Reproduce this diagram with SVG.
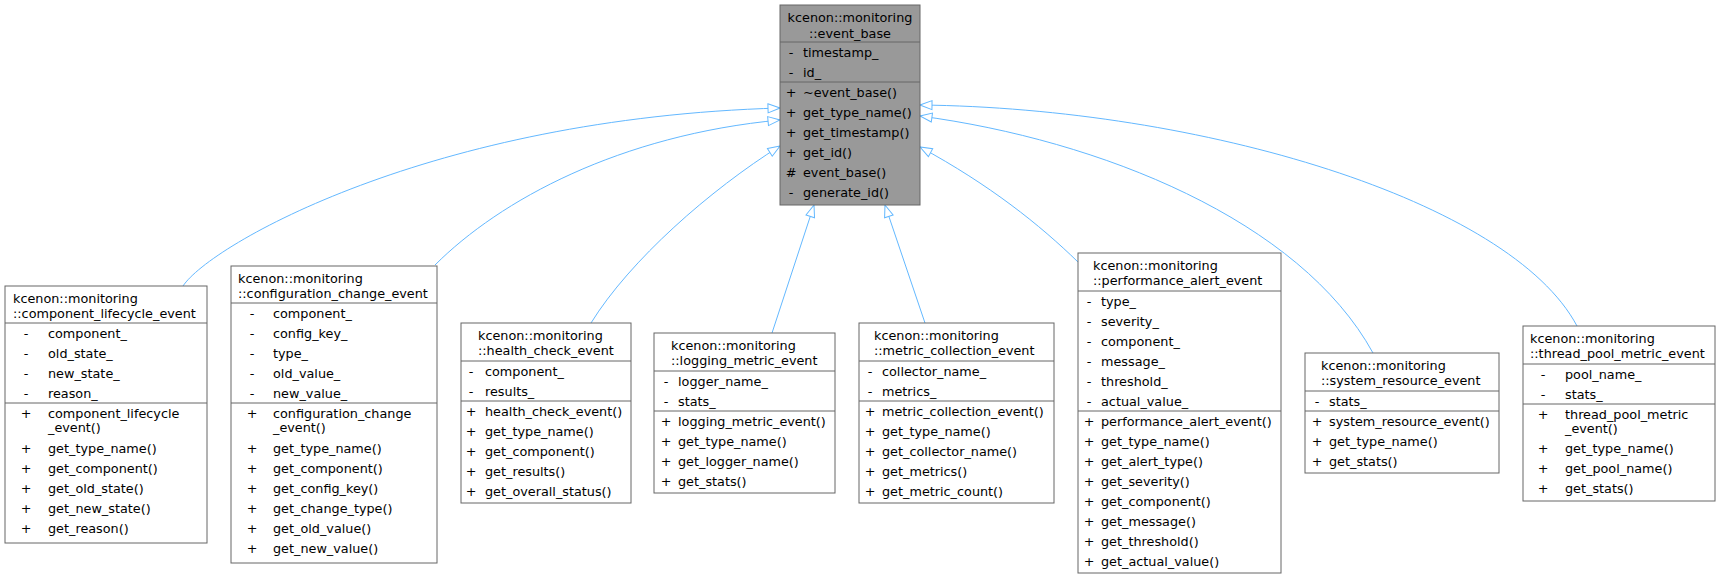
<svg xmlns="http://www.w3.org/2000/svg" width="1721" height="579" viewBox="0 0 1721 579">
<style>
text{font-family:"DejaVu Sans","Liberation Sans",sans-serif;font-size:12.8px;fill:#000}
.box{fill:#fff;stroke:#666;stroke-width:1}
.base{fill:#999;stroke:#666;stroke-width:1}
.sep{stroke:#666;stroke-width:1}
.s{text-anchor:middle}
.c{text-anchor:middle}
.e{fill:none;stroke:#63b8ff;stroke-width:1}
</style>
<defs>
<marker id="a" markerUnits="userSpaceOnUse" markerWidth="14" markerHeight="12" viewBox="-1 -1 14 11" refX="12" refY="4.5" orient="auto">
<path d="M0,0 L12,4.5 L0,9 Z" fill="#fff" stroke="#63b8ff" stroke-width="1"/>
</marker>
</defs>
<g id="connectors">
<path class="e" marker-end="url(#a)" d="M183,286 C210,245 430,118 780,108"/>
<path class="e" marker-end="url(#a)" d="M435,265 C500,200 620,135 780,120"/>
<path class="e" marker-end="url(#a)" d="M591,323 C630,260 710,190 780,146"/>
<path class="e" marker-end="url(#a)" d="M772,333 L814,205"/>
<path class="e" marker-end="url(#a)" d="M925,323 L885,205"/>
<path class="e" marker-end="url(#a)" d="M1078,262 C1040,225 990,185 920,147"/>
<path class="e" marker-end="url(#a)" d="M1373,353 C1300,220 1100,140 920,116"/>
<path class="e" marker-end="url(#a)" d="M1577,326 C1510,200 1200,108 920,105"/>
</g>
<g id="event_base">
<rect class="base" x="780" y="5" width="140" height="200"/>
<line class="sep" x1="780" y1="42" x2="920" y2="42"/>
<line class="sep" x1="780" y1="82" x2="920" y2="82"/>
<text class="c" x="850" y="21.5">kcenon::monitoring</text>
<text class="c" x="850" y="37.5">::event_base</text>
<text class="s" x="791" y="56.5">-</text><text x="803" y="56.5">timestamp_</text>
<text class="s" x="791" y="76.5">-</text><text x="803" y="76.5">id_</text>
<text class="s" x="791" y="96.5">+</text><text x="803" y="96.5">~event_base()</text>
<text class="s" x="791" y="116.5">+</text><text x="803" y="116.5">get_type_name()</text>
<text class="s" x="791" y="136.5">+</text><text x="803" y="136.5">get_timestamp()</text>
<text class="s" x="791" y="156.5">+</text><text x="803" y="156.5">get_id()</text>
<text class="s" x="791" y="176.5">#</text><text x="803" y="176.5">event_base()</text>
<text class="s" x="791" y="196.5">-</text><text x="803" y="196.5">generate_id()</text>
</g>
<g id="component_lifecycle_event">
<rect class="box" x="5" y="286" width="202" height="257"/>
<line class="sep" x1="5" y1="323" x2="207" y2="323"/>
<line class="sep" x1="5" y1="403" x2="207" y2="403"/>
<text x="13" y="302.5">kcenon::monitoring</text>
<text x="13" y="317.5">::component_lifecycle_event</text>
<text class="s" x="26" y="337.5">-</text><text x="48" y="337.5">component_</text>
<text class="s" x="26" y="357.5">-</text><text x="48" y="357.5">old_state_</text>
<text class="s" x="26" y="377.5">-</text><text x="48" y="377.5">new_state_</text>
<text class="s" x="26" y="397.5">-</text><text x="48" y="397.5">reason_</text>
<text class="s" x="26" y="417.5">+</text><text x="48" y="417.5">component_lifecycle</text>
<text x="48" y="431.5">_event()</text>
<text class="s" x="26" y="452.5">+</text><text x="48" y="452.5">get_type_name()</text>
<text class="s" x="26" y="472.5">+</text><text x="48" y="472.5">get_component()</text>
<text class="s" x="26" y="492.5">+</text><text x="48" y="492.5">get_old_state()</text>
<text class="s" x="26" y="512.5">+</text><text x="48" y="512.5">get_new_state()</text>
<text class="s" x="26" y="532.5">+</text><text x="48" y="532.5">get_reason()</text>
</g>
<g id="configuration_change_event">
<rect class="box" x="231" y="266" width="206" height="297"/>
<line class="sep" x1="231" y1="303" x2="437" y2="303"/>
<line class="sep" x1="231" y1="403" x2="437" y2="403"/>
<text x="238" y="282.5">kcenon::monitoring</text>
<text x="238" y="297.5">::configuration_change_event</text>
<text class="s" x="252" y="317.5">-</text><text x="273" y="317.5">component_</text>
<text class="s" x="252" y="337.5">-</text><text x="273" y="337.5">config_key_</text>
<text class="s" x="252" y="357.5">-</text><text x="273" y="357.5">type_</text>
<text class="s" x="252" y="377.5">-</text><text x="273" y="377.5">old_value_</text>
<text class="s" x="252" y="397.5">-</text><text x="273" y="397.5">new_value_</text>
<text class="s" x="252" y="417.5">+</text><text x="273" y="417.5">configuration_change</text>
<text x="273" y="431.5">_event()</text>
<text class="s" x="252" y="452.5">+</text><text x="273" y="452.5">get_type_name()</text>
<text class="s" x="252" y="472.5">+</text><text x="273" y="472.5">get_component()</text>
<text class="s" x="252" y="492.5">+</text><text x="273" y="492.5">get_config_key()</text>
<text class="s" x="252" y="512.5">+</text><text x="273" y="512.5">get_change_type()</text>
<text class="s" x="252" y="532.5">+</text><text x="273" y="532.5">get_old_value()</text>
<text class="s" x="252" y="552.5">+</text><text x="273" y="552.5">get_new_value()</text>
</g>
<g id="health_check_event">
<rect class="box" x="461" y="323" width="170" height="180"/>
<line class="sep" x1="461" y1="361" x2="631" y2="361"/>
<line class="sep" x1="461" y1="401" x2="631" y2="401"/>
<text x="478" y="339.5">kcenon::monitoring</text>
<text x="478" y="354.5">::health_check_event</text>
<text class="s" x="471" y="375.5">-</text><text x="485" y="375.5">component_</text>
<text class="s" x="471" y="395.5">-</text><text x="485" y="395.5">results_</text>
<text class="s" x="471" y="415.5">+</text><text x="485" y="415.5">health_check_event()</text>
<text class="s" x="471" y="435.5">+</text><text x="485" y="435.5">get_type_name()</text>
<text class="s" x="471" y="455.5">+</text><text x="485" y="455.5">get_component()</text>
<text class="s" x="471" y="475.5">+</text><text x="485" y="475.5">get_results()</text>
<text class="s" x="471" y="495.5">+</text><text x="485" y="495.5">get_overall_status()</text>
</g>
<g id="logging_metric_event">
<rect class="box" x="654" y="333" width="181" height="160"/>
<line class="sep" x1="654" y1="371" x2="835" y2="371"/>
<line class="sep" x1="654" y1="411" x2="835" y2="411"/>
<text x="671" y="349.5">kcenon::monitoring</text>
<text x="671" y="364.5">::logging_metric_event</text>
<text class="s" x="666" y="385.5">-</text><text x="678" y="385.5">logger_name_</text>
<text class="s" x="666" y="405.5">-</text><text x="678" y="405.5">stats_</text>
<text class="s" x="666" y="425.5">+</text><text x="678" y="425.5">logging_metric_event()</text>
<text class="s" x="666" y="445.5">+</text><text x="678" y="445.5">get_type_name()</text>
<text class="s" x="666" y="465.5">+</text><text x="678" y="465.5">get_logger_name()</text>
<text class="s" x="666" y="485.5">+</text><text x="678" y="485.5">get_stats()</text>
</g>
<g id="metric_collection_event">
<rect class="box" x="859" y="323" width="195" height="180"/>
<line class="sep" x1="859" y1="361" x2="1054" y2="361"/>
<line class="sep" x1="859" y1="401" x2="1054" y2="401"/>
<text x="874" y="339.5">kcenon::monitoring</text>
<text x="874" y="354.5">::metric_collection_event</text>
<text class="s" x="870" y="375.5">-</text><text x="882" y="375.5">collector_name_</text>
<text class="s" x="870" y="395.5">-</text><text x="882" y="395.5">metrics_</text>
<text class="s" x="870" y="415.5">+</text><text x="882" y="415.5">metric_collection_event()</text>
<text class="s" x="870" y="435.5">+</text><text x="882" y="435.5">get_type_name()</text>
<text class="s" x="870" y="455.5">+</text><text x="882" y="455.5">get_collector_name()</text>
<text class="s" x="870" y="475.5">+</text><text x="882" y="475.5">get_metrics()</text>
<text class="s" x="870" y="495.5">+</text><text x="882" y="495.5">get_metric_count()</text>
</g>
<g id="performance_alert_event">
<rect class="box" x="1078" y="253" width="203" height="320"/>
<line class="sep" x1="1078" y1="291" x2="1281" y2="291"/>
<line class="sep" x1="1078" y1="411" x2="1281" y2="411"/>
<text x="1093" y="269.5">kcenon::monitoring</text>
<text x="1093" y="284.5">::performance_alert_event</text>
<text class="s" x="1089" y="305.5">-</text><text x="1101" y="305.5">type_</text>
<text class="s" x="1089" y="325.5">-</text><text x="1101" y="325.5">severity_</text>
<text class="s" x="1089" y="345.5">-</text><text x="1101" y="345.5">component_</text>
<text class="s" x="1089" y="365.5">-</text><text x="1101" y="365.5">message_</text>
<text class="s" x="1089" y="385.5">-</text><text x="1101" y="385.5">threshold_</text>
<text class="s" x="1089" y="405.5">-</text><text x="1101" y="405.5">actual_value_</text>
<text class="s" x="1089" y="425.5">+</text><text x="1101" y="425.5">performance_alert_event()</text>
<text class="s" x="1089" y="445.5">+</text><text x="1101" y="445.5">get_type_name()</text>
<text class="s" x="1089" y="465.5">+</text><text x="1101" y="465.5">get_alert_type()</text>
<text class="s" x="1089" y="485.5">+</text><text x="1101" y="485.5">get_severity()</text>
<text class="s" x="1089" y="505.5">+</text><text x="1101" y="505.5">get_component()</text>
<text class="s" x="1089" y="525.5">+</text><text x="1101" y="525.5">get_message()</text>
<text class="s" x="1089" y="545.5">+</text><text x="1101" y="545.5">get_threshold()</text>
<text class="s" x="1089" y="565.5">+</text><text x="1101" y="565.5">get_actual_value()</text>
</g>
<g id="system_resource_event">
<rect class="box" x="1305" y="353" width="194" height="120"/>
<line class="sep" x1="1305" y1="391" x2="1499" y2="391"/>
<line class="sep" x1="1305" y1="411" x2="1499" y2="411"/>
<text x="1321" y="369.5">kcenon::monitoring</text>
<text x="1321" y="384.5">::system_resource_event</text>
<text class="s" x="1317" y="405.5">-</text><text x="1329" y="405.5">stats_</text>
<text class="s" x="1317" y="425.5">+</text><text x="1329" y="425.5">system_resource_event()</text>
<text class="s" x="1317" y="445.5">+</text><text x="1329" y="445.5">get_type_name()</text>
<text class="s" x="1317" y="465.5">+</text><text x="1329" y="465.5">get_stats()</text>
</g>
<g id="thread_pool_metric_event">
<rect class="box" x="1523" y="326" width="192" height="175"/>
<line class="sep" x1="1523" y1="364" x2="1715" y2="364"/>
<line class="sep" x1="1523" y1="404" x2="1715" y2="404"/>
<text x="1530" y="342.5">kcenon::monitoring</text>
<text x="1530" y="357.5">::thread_pool_metric_event</text>
<text class="s" x="1543" y="378.5">-</text><text x="1565" y="378.5">pool_name_</text>
<text class="s" x="1543" y="398.5">-</text><text x="1565" y="398.5">stats_</text>
<text class="s" x="1543" y="418.5">+</text><text x="1565" y="418.5">thread_pool_metric</text>
<text x="1565" y="432.5">_event()</text>
<text class="s" x="1543" y="452.5">+</text><text x="1565" y="452.5">get_type_name()</text>
<text class="s" x="1543" y="472.5">+</text><text x="1565" y="472.5">get_pool_name()</text>
<text class="s" x="1543" y="492.5">+</text><text x="1565" y="492.5">get_stats()</text>
</g>
</svg>
